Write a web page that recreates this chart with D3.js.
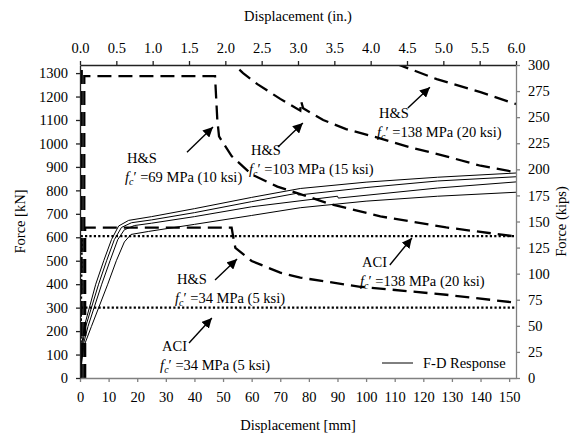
<!DOCTYPE html>
<html>
<head>
    <meta charset="utf-8">
    <style>
        body { margin: 0; background: #fff; }
    </style>
</head>
<body>
    <svg width="576" height="437" font-family="'Liberation Serif', 'Times New Roman', 'DejaVu Serif', serif" font-size="14.5"></svg>
    <script src="https://d3js.org/d3.v7.min.js"></script>
    <script>
        // axis ticks
        let mmTicks = d3.range(0, 151, 10);
        let inTicks = d3.range(0, 6.01, 0.5);
        let kNTicks = d3.range(0, 1301, 100);
        let kipsTicks = d3.range(0, 301, 25);

        // F-D response curves [mm, kN]
        let fd1 = [[0,0],[0.5,130],[1.5,220],[5.5,400],[8.3,500],[11,590],[13.5,648],[17,672],[25,688],[40,722],[60,770],[77,808],[100,835],[125,856],[152.4,874]];
        let fd2 = [[0,0],[0.7,130],[2,220],[6.5,400],[9.3,500],[12,590],[14.5,642],[18,662],[25,674],[40,705],[60,752],[76,788],[76.3,780],[100,812],[125,840],[152.4,858]];
        let fd3 = [[0,0],[0.9,130],[2.8,220],[7.6,400],[10.5,500],[13.2,590],[15.5,632],[19,650],[25,660],[40,688],[60,730],[90,775],[90.3,767],[125,810],[152.4,836]];
        let fd4 = [[0,0],[1.2,130],[4,220],[9.7,400],[12.7,500],[15.5,580],[17.8,612],[24,625],[40,655],[60,693],[77,726],[100,754],[125,775],[152.4,792]];
        let fdSeries = [fd1, fd2, fd3, fd4];

        // H&S predictions [mm, kN]
        let hs34 = [[1.8,0],[1.8,641],[53,641],[53.5,605],[54.3,555],[60,499],[70,449],[77,428],[98,389],[128,355],[152.4,321]];
        let hs69 = [[1.5,0],[1.5,1287],[47.2,1287],[48,1100],[48.6,1030],[53,946],[60,868],[69,816],[77,784],[87.4,742],[105,689],[128,642],[152.4,603]];
        let hs103 = [[0.3,0],[0.3,1600],[50,1600],[51.5,1450],[53.5,1340],[57,1300],[62,1253],[70,1190],[77,1140],[77.3,1180],[78,1150],[85,1100],[93,1061],[104,1025],[115,985],[128,945],[140,905],[152.4,877]];
        let hs138 = [[0.6,0],[0.6,1800],[100,1800],[105,1450],[110.5,1340],[124.7,1274],[140,1219],[152.4,1168]];
        let hsSeries = [hs34, hs69, hs103, hs138];

        // ACI predictions [mm, kN]
        let aci34 = [[0,0],[0.3,300],[152.4,300]];
        let aci138 = [[0,0],[0.6,605],[152.4,605]];
        let aciSeries = [aci34, aci138];

        // annotation text: first baseline at [mm, kN], arrow from -> to [mm, kN]
        let notes = [
            {title: "H&S", val: "=69 MPa (10 ksi)", at: [15.7, 917], from: [37.4, 963], to: [46.5, 1070]},
            {title: "H&S", val: "=103 MPa (15 ksi)", at: [59.1, 951], from: [69.2, 985], to: [77.9, 1087]},
            {title: "H&S", val: "=138 MPa (20 ksi)", at: [103.8, 1108], from: [114.6, 1151], to: [122.3, 1240]},
            {title: "H&S", val: "=34 MPa (5 ksi)", at: [33.2, 401], from: [47.2, 418], to: [54.9, 507]},
            {title: "ACI", val: "=34 MPa (5 ksi)", at: [28, 115], from: [38.1, 149], to: [46.1, 256]},
            {title: "ACI", val: "=138 MPa (20 ksi)", at: [97.9, 473], from: [108.3, 482], to: [116, 597]}
        ];

        let svg = d3.select("svg");
        let pL = 80, pR = 516, pT = 65, pB = 378;

        let x = d3.scaleLinear().domain([0, 152.4]).range([pL, pR]);
        let xIn = d3.scaleLinear().domain([0, 6]).range([pL, pR]);
        let y = d3.scaleLinear().domain([0, 1334.5]).range([pB, pT]);
        let yKips = d3.scaleLinear().domain([0, 300]).range([pB, pT]);

        let defs = svg.append("defs");
        defs.append("clipPath").attr("id", "plot")
            .append("rect").attr("x", pL).attr("y", pT)
            .attr("width", pR - pL).attr("height", pB - pT);
        defs.append("marker")
            .attr("id", "head").attr("viewBox", "0 0 10 10")
            .attr("refX", 10).attr("refY", 5)
            .attr("markerWidth", 10).attr("markerHeight", 10)
            .attr("markerUnits", "userSpaceOnUse")
            .attr("orient", "auto")
            .append("path").attr("d", "M0,0L10,5L0,10Z").attr("fill", "#000");

        let line = d3.line().x(d => x(d[0])).y(d => y(d[1]));
        let plot = svg.append("g").attr("clip-path", "url(#plot)");

        plot.selectAll(".fd").data(fdSeries).enter().append("path")
            .attr("class", "fd").attr("d", line)
            .attr("fill", "none").attr("stroke", "#000").attr("stroke-width", 1);

        plot.selectAll(".aci").data(aciSeries).enter().append("path")
            .attr("class", "aci").attr("d", line)
            .attr("fill", "none").attr("stroke", "#000").attr("stroke-width", 2.4)
            .attr("stroke-dasharray", "2.2,2.2");

        plot.selectAll(".hs").data(hsSeries).enter().append("path")
            .attr("class", "hs").attr("d", line)
            .attr("fill", "none").attr("stroke", "#000").attr("stroke-width", 2.3)
            .attr("stroke-dasharray", "14,7");

        // axes
        function styleAxis(g, color) {
            g.attr("font-family", null).attr("font-size", null);
            g.selectAll("path,line").attr("stroke", color).attr("stroke-width", 1.3);
            g.selectAll("text").attr("fill", "#000");
        }
        svg.append("g").attr("transform", `translate(0,${pB})`)
            .call(d3.axisBottom(x).tickValues(mmTicks).tickFormat(d3.format("d")).tickSize(4).tickSizeOuter(0).tickPadding(10))
            .call(g => styleAxis(g, "#808080"));
        svg.append("g").attr("transform", `translate(0,${pT})`)
            .call(d3.axisTop(xIn).tickValues(inTicks).tickFormat(d3.format(".1f")).tickSize(4).tickSizeOuter(0).tickPadding(8))
            .call(g => styleAxis(g, "#222"));
        svg.append("g").attr("transform", `translate(${pL},0)`)
            .call(d3.axisLeft(y).tickValues(kNTicks).tickFormat(d3.format("d")).tickSize(4).tickSizeOuter(0).tickPadding(8))
            .call(g => styleAxis(g, "#222"));
        svg.append("g").attr("transform", `translate(${pR},0)`)
            .call(d3.axisRight(yKips).tickValues(kipsTicks).tickFormat(d3.format("d")).tickSize(4).tickSizeOuter(0).tickPadding(8))
            .call(g => styleAxis(g, "#808080"));

        // axis titles
        svg.append("text").attr("x", (pL + pR) / 2).attr("y", 430)
            .attr("text-anchor", "middle").text("Displacement [mm]");
        svg.append("text").attr("x", (pL + pR) / 2).attr("y", 21)
            .attr("text-anchor", "middle").text("Displacement (in.)");
        svg.append("text").attr("transform", `translate(25,${(pT + pB) / 2}) rotate(-90)`)
            .attr("text-anchor", "middle").text("Force [kN]");
        svg.append("text").attr("transform", `translate(566,${(pT + pB) / 2}) rotate(-90)`)
            .attr("text-anchor", "middle").text("Force (kips)");

        // annotations
        let note = svg.selectAll(".note").data(notes).enter().append("g").attr("class", "note");
        note.append("text").attr("x", d => x(d.at[0]) + 2).attr("y", d => y(d.at[1])).text(d => d.title);
        let second = note.append("text").attr("x", d => x(d.at[0])).attr("y", d => y(d.at[1]) + 19);
        second.append("tspan").attr("font-style", "italic").text("f");
        second.append("tspan").attr("font-style", "italic").attr("font-size", "10").attr("dy", 3).text("c");
        second.append("tspan").attr("dy", -3).text(d => "\u2032 " + d.val);
        note.append("line")
            .attr("x1", d => x(d.from[0])).attr("y1", d => y(d.from[1]))
            .attr("x2", d => x(d.to[0])).attr("y2", d => y(d.to[1]))
            .attr("stroke", "#000").attr("stroke-width", 1.4)
            .attr("marker-end", "url(#head)");

        // legend
        svg.append("line").attr("x1", 382).attr("x2", 413).attr("y1", 363).attr("y2", 363)
            .attr("stroke", "#000").attr("stroke-width", 1);
        svg.append("text").attr("x", 423).attr("y", 368).text("F-D Response");
    </script>
</body>
</html>
